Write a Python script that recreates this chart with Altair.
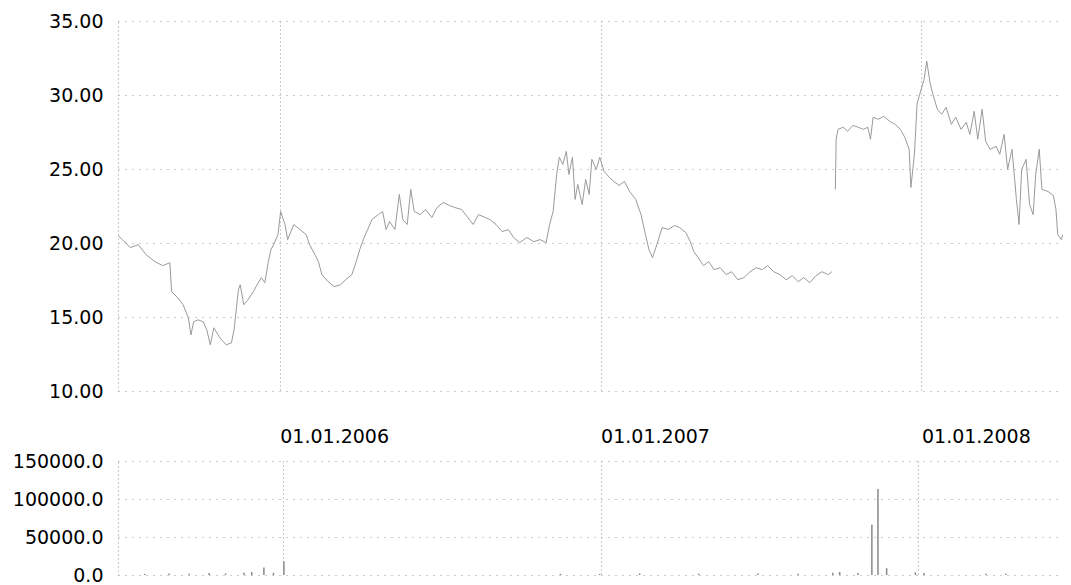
import altair as alt
import pandas as pd

START = "2005-07-01"

# price: days since START, value (segment 1 and segment 2, gap between)
day1 = [0, 5, 14, 23, 32, 42, 51, 59, 61, 68, 74, 80, 83, 86, 91, 97, 101, 105, 109, 116,
        123, 129, 132, 137, 139, 143, 148, 154, 157, 163, 167, 171, 174, 177, 182, 185, 190, 193, 200, 207,
        214, 218, 224, 228, 232, 239, 246, 253, 259, 266, 271, 275, 280, 284, 289, 296, 301, 305, 309, 315,
        320, 324, 329, 333, 337, 344, 350, 357, 363, 370, 377, 383, 391, 398, 404, 410, 418, 423, 430, 437,
        444, 450, 457, 465, 473, 480, 487, 491, 495, 499, 502, 506, 510, 513, 517, 520, 523, 528, 532, 536,
        539, 544, 548, 553, 559, 564, 570, 576, 582, 589, 595, 600, 604, 608, 613, 619, 626, 633, 639, 646,
        651, 655, 660, 666, 672, 678, 685, 692, 698, 705, 712, 719, 726, 733, 739, 746, 753, 760, 767, 774,
        780, 787, 794, 801, 808, 812]
val1 = [20.50, 20.23, 19.69, 19.89, 19.21, 18.74, 18.47, 18.67, 16.71, 16.30, 15.83, 14.95, 13.79, 14.67, 14.81, 14.67, 14.13, 13.12, 14.27, 13.59,
        13.12, 13.25, 14.13, 16.84, 17.18, 15.83, 16.17, 16.71, 17.05, 17.66, 17.32, 18.74, 19.55, 19.89, 20.57, 22.13, 21.25, 20.23, 21.25, 20.91,
        20.57, 19.89, 19.21, 18.74, 17.86, 17.39, 17.05, 17.18, 17.52, 17.86, 18.74, 19.55, 20.37, 20.91, 21.59, 21.92, 22.13, 20.91, 21.45, 20.91,
        23.28, 21.59, 21.25, 23.62, 22.13, 21.92, 22.26, 21.72, 22.40, 22.74, 22.53, 22.40, 22.26, 21.72, 21.25, 21.92, 21.72, 21.59, 21.25, 20.77,
        20.91, 20.37, 20.03, 20.37, 20.09, 20.23, 20.03, 21.25, 22.13, 24.63, 25.79, 25.31, 26.19, 24.63, 25.79, 22.94, 23.96, 22.60, 24.29, 23.28,
        25.65, 24.97, 25.79, 24.84, 24.43, 24.16, 23.89, 24.16, 23.48, 22.94, 21.92, 20.57, 19.55, 19.01, 19.89, 21.04, 20.91, 21.18, 21.04, 20.70,
        20.09, 19.42, 19.01, 18.47, 18.74, 18.20, 18.33, 17.86, 18.06, 17.52, 17.66, 18.06, 18.33, 18.20, 18.47, 18.06, 17.86, 17.52, 17.79, 17.39,
        17.66, 17.32, 17.79, 18.06, 17.86, 18.06]
day2 = [816, 817, 819, 825, 830, 836, 842, 848, 853, 856, 859, 865, 871, 878, 884, 890, 895, 900, 902, 906,
        909, 912, 917, 920, 924, 927, 932, 937, 942, 948, 953, 959, 965, 969, 974, 978, 983, 987, 992, 999,
        1003, 1008, 1012, 1017, 1022, 1025, 1028, 1033, 1037, 1041, 1044, 1048, 1051, 1058, 1064, 1067, 1069, 1073, 1075]
val2 = [23.62, 27.01, 27.68, 27.82, 27.55, 27.95, 27.82, 27.68, 27.82, 27.01, 28.50, 28.36, 28.56, 28.22, 28.02, 27.68, 27.14, 26.33, 23.75, 26.00,
        29.38, 30.05, 31.07, 32.29, 30.73, 30.05, 29.04, 28.70, 29.17, 28.02, 28.50, 27.68, 28.16, 27.34, 28.90, 27.01, 29.04, 26.87, 26.33, 26.53,
        25.99, 27.34, 24.97, 26.33, 22.94, 21.25, 24.97, 25.65, 22.60, 21.92, 24.63, 26.33, 23.62, 23.48, 23.21, 22.26, 20.57, 20.23, 20.57]

# volume: days since START, value
vol_day = [25, 53, 76, 99, 118, 139, 148, 162, 173, 185, 503, 548, 594, 662, 730, 776, 816, 824, 845, 861,
           868, 878, 911, 921, 992, 1015]
vol_val = [1500, 2000, 1500, 2500, 2000, 3000, 4000, 10000, 3000, 18000, 1500, 1500, 2000, 1500, 2000, 1500, 3000, 4000, 2500, 66000,
           113000, 9000, 3500, 2500, 1500, 1500]

price_ticks = [10, 15, 20, 25, 30, 35]
vol_ticks = [0, 50000, 100000, 150000]


def to_dates(days):
    return (pd.Timestamp(START) + pd.to_timedelta(days, unit="D")).strftime("%Y-%m-%d")


price_df = pd.concat([
    pd.DataFrame({"date": to_dates(day1), "price": val1, "seg": "a"}),
    pd.DataFrame({"date": to_dates(day2), "price": val2, "seg": "b"}),
])
vol_df = pd.DataFrame({"date": to_dates(vol_day), "volume": vol_val})

x_dom = [alt.DateTime(year=2005, month=7, date=1, utc=True),
         alt.DateTime(year=2008, month=6, date=10, utc=True)]
year_vals = [alt.DateTime(year=y, month=1, date=1, utc=True) for y in (2006, 2007, 2008)]

W = 945

top = alt.Chart(price_df).mark_line(color="#9a9a9a", strokeWidth=1, clip=True).encode(
    x=alt.X("date:T", scale=alt.Scale(type="utc", domain=x_dom),
            axis=alt.Axis(values=year_vals, labelExpr="utcFormat(datum.value, '%d.%m.%Y')",
                          labelAlign="left", labelPadding=36, ticks=False, tickSize=0,
                          domain=False, grid=True, gridDash=[1, 3], title=None, labelFlush=False)),
    y=alt.Y("price:Q", scale=alt.Scale(domain=[10, 35], nice=False, zero=False),
            axis=alt.Axis(values=price_ticks, format=".2f", labelPadding=15, ticks=False, tickSize=0,
                          gridDash=[1, 6], domainDash=[1, 3], domainColor="#999999", title=None)),
    detail="seg:N",
).properties(width=W, height=370)

bottom = alt.Chart(vol_df).mark_bar(color="#888888", width=1.5, clip=True).encode(
    x=alt.X("date:T", scale=alt.Scale(type="utc", domain=x_dom),
            axis=alt.Axis(values=year_vals, labels=False, ticks=False, tickSize=0,
                          domain=False, grid=True, gridDash=[1, 3], title=None)),
    y=alt.Y("volume:Q", scale=alt.Scale(domain=[0, 150000], nice=False),
            axis=alt.Axis(values=vol_ticks, format=".1f", labelPadding=15, ticks=False, tickSize=0,
                          gridDash=[1, 6], domainDash=[1, 3], domainColor="#999999", title=None)),
).properties(width=W, height=114)

chart = alt.vconcat(top, bottom, spacing=6).properties(
    padding={"left": 4, "top": 4, "right": 0, "bottom": 0}
).configure_view(stroke=None).configure_axis(
    labelFont="DejaVu Sans", labelFontSize=19, labelColor="#000000",
    gridColor="#999999", gridWidth=1,
)

chart.save("out.html", embed_options={"renderer": "svg", "actions": False})
